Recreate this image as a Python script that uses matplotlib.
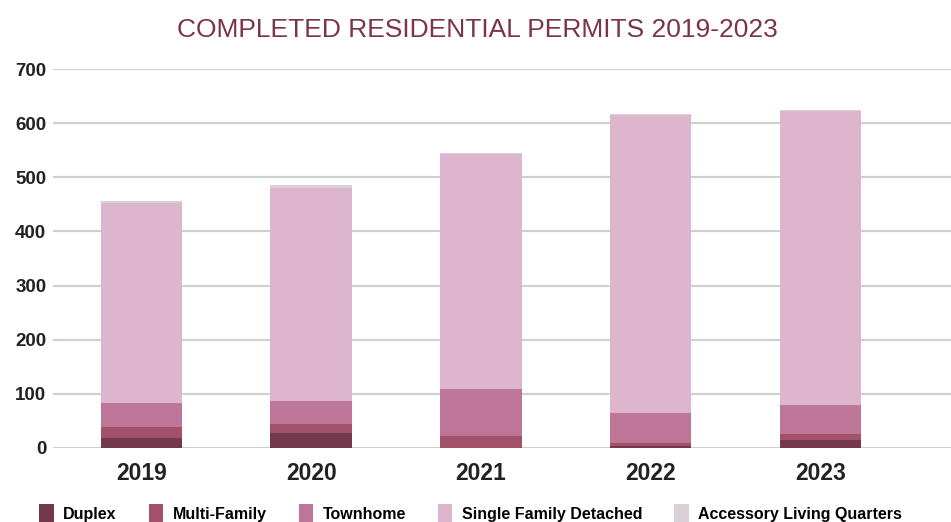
import matplotlib.pyplot as plt
import numpy as np

years = ["2019", "2020", "2021", "2022", "2023"]
duplex = [19, 28, 0, 3, 15]
multi_family = [20, 16, 23, 6, 11]
townhome = [44, 43, 86, 56, 54]
single_family = [369, 393, 434, 550, 543]
accessory = [4, 6, 1, 1, 1]

SERIES = [
    ("Duplex", duplex, "#73384b"),
    ("Multi-Family", multi_family, "#a3506a"),
    ("Townhome", townhome, "#bd7697"),
    ("Single Family Detached", single_family, "#ddb6cd"),
    ("Accessory Living Quarters", accessory, "#d9d1d5"),
]

plt.rcParams["font.family"] = "Liberation Sans"

fig = plt.figure(figsize=(9.51, 5.22), dpi=100)
ax = fig.add_axes([0.056, 0.1418, 0.944, 0.726])

x = np.arange(len(years))
bottom = np.zeros(len(years))
for name, vals, color in SERIES:
    ax.bar(x, vals, width=0.48, bottom=bottom, color=color, label=name, zorder=3)
    bottom += np.array(vals)

ax.set_xlim(-0.52, 4.77)
ax.set_ylim(0, 700)
ax.set_yticks(range(0, 701, 100))
ax.yaxis.grid(True, color="#cbd2cf", linewidth=1.6, zorder=0)
ax.set_axisbelow(True)
for s in ax.spines.values():
    s.set_visible(False)
ax.tick_params(axis="y", length=0, pad=5, labelsize=13.5, labelcolor="#222222")
ax.tick_params(axis="x", length=0, pad=10, labelsize=16.5, labelcolor="#222222")
ax.set_xticks(x)
ax.set_xticklabels(years, fontweight="bold")
for lbl in ax.get_yticklabels():
    lbl.set_fontweight("bold")

fig.text(0.502, 0.943, "COMPLETED RESIDENTIAL PERMITS 2019-2023",
         ha="center", va="center", fontsize=19, color="#7a3548")

ax.legend(loc="center", bbox_to_anchor=(0.465, -0.172), ncol=5, frameon=False,
          prop={"weight": "bold", "size": 11.5},
          handlelength=0.9, handleheight=1.3, handletextpad=0.6, columnspacing=2.0)

fig.savefig("out.png", dpi=100)
